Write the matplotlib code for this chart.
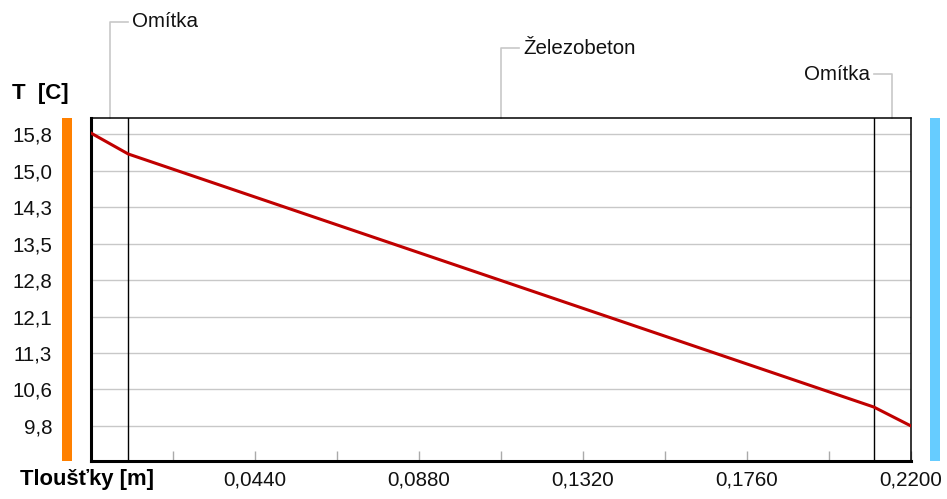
import matplotlib
matplotlib.use("Agg")
import matplotlib.pyplot as plt
import matplotlib.transforms as mtransforms
from matplotlib.patches import Rectangle

# temperature profile through the wall
thickness = [0.0, 0.01, 0.21, 0.22]
temperature = [15.82, 15.39, 10.19, 9.80]

# layers: (name, start, end)
layer_names = ["Omítka", "Železobeton", "Omítka"]
layer_bounds = [0.0, 0.01, 0.21, 0.22]

ytick_vals = [15.8, 15.05, 14.3, 13.55, 12.8, 12.05, 11.3, 10.55, 9.8]
ytick_labels = ["15,8", "15,0", "14,3", "13,5", "12,8", "12,1", "11,3", "10,6", "9,8"]
xtick_major = [0.044, 0.088, 0.132, 0.176, 0.22]
xtick_labels = ["0,0440", "0,0880", "0,1320", "0,1760", "0,2200"]
xtick_minor = [0.022, 0.066, 0.110, 0.154, 0.198]

plt.rcParams['font.family'] = ['Liberation Sans', 'DejaVu Sans']

W, H = 947, 499
fig = plt.figure(figsize=(W / 100, H / 100), dpi=100)
ax = fig.add_axes([91 / W, 38 / H, 820 / W, 343 / H])

ax.plot(thickness, temperature, color="#c00000", lw=2.2, zorder=3)

ax.set_xlim(0, 0.22)
ax.set_ylim(9.08, 16.13)

ax.set_yticks(ytick_vals)
ax.set_yticklabels(ytick_labels, fontsize=14.8, color="#111111")
ax.tick_params(axis="y", length=0, pad=28)
for v in ytick_vals:
    ax.axhline(v, color="#c8c8c8", lw=1, zorder=1)

ax.set_xticks(xtick_major)
ax.set_xticklabels(xtick_labels, fontsize=14.8, color="#111111")
ax.set_xticks(xtick_minor, minor=True)
ax.tick_params(axis="x", which="both", direction="in", length=7, color="#aaaaaa", width=1, pad=7)

# layer boundaries
for b in layer_bounds[1:-1]:
    ax.axvline(b, color="black", lw=1, zorder=2)

for side in ["left", "bottom"]:
    ax.spines[side].set_linewidth(2.2)
for side in ["top", "right"]:
    ax.spines[side].set_linewidth(1.1)

# layer labels with leader lines
trans = mtransforms.blended_transform_factory(ax.transData, ax.transAxes)
label_heights = [1.28, 1.204, 1.128]
off = 0.0049
for i, name in enumerate(layer_names):
    mid = (layer_bounds[i] + layer_bounds[i + 1]) / 2
    h = label_heights[i]
    if i < len(layer_names) - 1:
        ax.plot([mid, mid, mid + off], [1.0, h, h], color="#c8c8c8", lw=1.2,
                transform=trans, clip_on=False)
        ax.text(mid + off + 0.0012, h, name, transform=trans, fontsize=14.8,
                ha="left", va="center", color="#111111")
    else:
        ax.plot([mid, mid, mid - off], [1.0, h, h], color="#c8c8c8", lw=1.2,
                transform=trans, clip_on=False)
        ax.text(mid - off - 0.0012, h, name, transform=trans, fontsize=14.8,
                ha="right", va="center", color="#111111")

# surface colour bars
fig.add_artist(Rectangle((62 / W, 38 / H), 10 / W, 343 / H, transform=fig.transFigure,
                         color="#ff8000", lw=0))
fig.add_artist(Rectangle((930 / W, 38 / H), 10 / W, 343 / H, transform=fig.transFigure,
                         color="#66ccff", lw=0))

fig.text(12 / W, 1 - 93 / H, "T  [C]", fontsize=16, fontweight="bold", va="center", ha="left")
fig.text(20 / W, 1 - 479 / H, "Tloušťky [m]", fontsize=15.8, fontweight="bold", va="center", ha="left")

fig.savefig("out.png", dpi=100)
